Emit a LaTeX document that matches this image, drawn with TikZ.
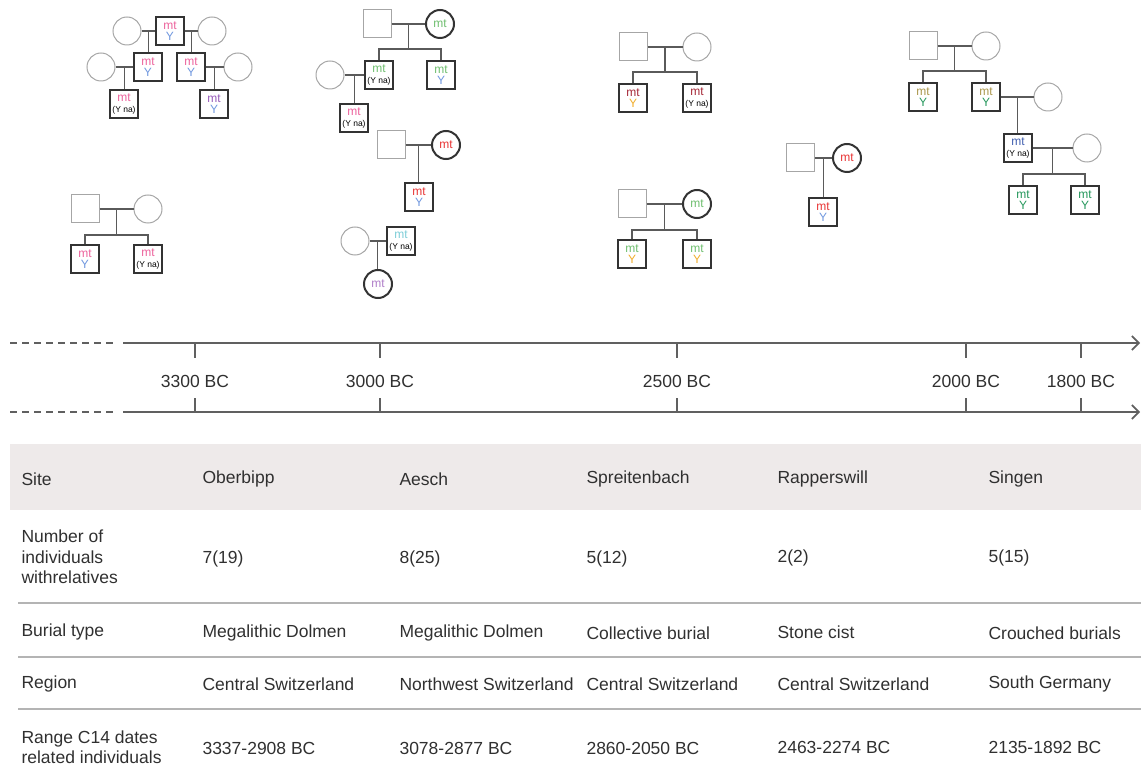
\documentclass[tikz,border=0pt]{standalone}
\usepackage{fontspec}
\setmainfont{Liberation Sans}
\usepackage{xcolor}
\usepackage{tikz}
\usetikzlibrary{arrows.meta}

\definecolor{txt}{HTML}{303030}
\definecolor{unsamp}{HTML}{A6A6A6}
\definecolor{samp}{HTML}{333333}
\definecolor{lnk}{HTML}{5A5A5A}
\definecolor{axc}{HTML}{606060}
\definecolor{hdr}{HTML}{EEEAEA}
\definecolor{sepc}{HTML}{B4B4B4}
\definecolor{pk}{RGB}{236,98,156}
\definecolor{ybl}{RGB}{110,150,222}
\definecolor{pur}{RGB}{150,90,185}
\definecolor{grn}{RGB}{110,190,110}
\definecolor{rd}{RGB}{232,52,52}
\definecolor{cyn}{RGB}{125,205,215}
\definecolor{lav}{RGB}{175,125,200}
\definecolor{drd}{RGB}{165,40,55}
\definecolor{org}{RGB}{240,172,40}
\definecolor{olv}{RGB}{170,150,75}
\definecolor{sgr}{RGB}{35,150,90}
\definecolor{sbl}{RGB}{65,95,175}

\newcommand{\yna}{{\fontsize{8.5}{9}\selectfont\color{black}(Y na)}}

\begin{document}
\begin{tikzpicture}[x=1pt,y=-1pt,
    every node/.style={font=\fontsize{17.5}{20.5}\selectfont, text=txt},
    unm/.style={rectangle, draw=unsamp, line width=1pt, minimum size=28pt, inner sep=0pt},
    unf/.style={circle, draw=unsamp, line width=1pt, minimum size=28pt, inner sep=0pt},
    sm/.style={rectangle, draw=samp, line width=2pt, minimum size=28pt, inner sep=0pt, align=center, font=\fontsize{12}{11}\selectfont},
    sf/.style={circle, draw=samp, line width=2pt, minimum size=28pt, inner sep=0pt, font=\fontsize{12}{11}\selectfont},
    link/.style={draw=lnk, line width=1.3pt},
    tk/.style={draw=axc, line width=1.6pt},
    cell/.style={anchor=west, align=left}]
    \useasboundingbox (0,0) rectangle (1141,767);

    % Oberbipp
    \node[unf] (ob1f) at (127,31) {};
    \node[sm] (ob1m) at (170,31) {\textcolor{pk}{mt}\\\textcolor{ybl}{Y}};
    \node[unf] (ob2f) at (212,31) {};
    \node[unf] (ob3f) at (101,67) {};
    \node[sm] (ob3m) at (148,67) {\textcolor{pk}{mt}\\\textcolor{ybl}{Y}};
    \node[sm] (ob4m) at (191,67) {\textcolor{pk}{mt}\\\textcolor{ybl}{Y}};
    \node[unf] (ob4f) at (238,67) {};
    \node[sm] (ob5m) at (124,104) {\textcolor{pk}{mt}\\\yna};
    \node[sm] (ob6m) at (214,104) {\textcolor{pur}{mt}\\\textcolor{ybl}{Y}};
    \draw[link] (ob1f) -- coordinate (ob1u) (ob1m);
    \draw[link] (ob1m) -- coordinate (ob2u) (ob2f);
    \draw[link] (ob3f) -- coordinate (ob3u) (ob3m);
    \draw[link] (ob4m) -- coordinate (ob4u) (ob4f);
    \draw[link] (ob1u) -- (ob1u |- ob3m.north);
    \draw[link] (ob2u) -- (ob2u |- ob4m.north);
    \draw[link] (ob3u) -- (ob3u |- ob5m.north);
    \draw[link] (ob4u) -- (ob4u |- ob6m.north);

    \node[unm] (ob7m) at (85,209) {};
    \node[unf] (ob7f) at (148,209) {};
    \node[sm] (ob8m) at (85,259) {\textcolor{pk}{mt}\\\textcolor{ybl}{Y}};
    \node[sm] (ob9m) at (148,259) {\textcolor{pk}{mt}\\\yna};
    \draw[link] (ob7m) -- coordinate (ob7u) (ob7f);
    \coordinate (ob7s) at (ob7u |- 0,235);
    \draw[link] (ob7u) -- (ob7s);
    \draw[link] (ob8m.north) |- (ob7s) -| (ob9m.north);

    % Aesch
    \node[unm] (ae1m) at (377,24) {};
    \node[sf] (ae1f) at (440,24) {\textcolor{grn}{mt}};
    \node[sm] (ae2m) at (379,75) {\textcolor{grn}{mt}\\\yna};
    \node[sm] (ae3m) at (441,75) {\textcolor{grn}{mt}\\\textcolor{ybl}{Y}};
    \node[unf] (ae2f) at (330,75) {};
    \node[sm] (ae4m) at (354,118) {\textcolor{pk}{mt}\\\yna};
    \draw[link] (ae1m) -- coordinate (ae1u) (ae1f);
    \coordinate (ae1s) at (ae1u |- 0,49);
    \draw[link] (ae1u) -- (ae1s);
    \draw[link] (ae2m.north) |- (ae1s) -| (ae3m.north);
    \draw[link] (ae2f) -- coordinate (ae2u) (ae2m);
    \draw[link] (ae2u) -- (ae2u |- ae4m.north);

    \node[unm] (ae5m) at (391,145) {};
    \node[sf] (ae5f) at (446,145) {\textcolor{rd}{mt}};
    \node[sm] (ae6m) at (419,197) {\textcolor{rd}{mt}\\\textcolor{ybl}{Y}};
    \draw[link] (ae5m) -- coordinate (ae5u) (ae5f);
    \draw[link] (ae5u) -- (ae5u |- ae6m.north);

    \node[unf] (ae7f) at (355,241) {};
    \node[sm] (ae7m) at (401,241) {\textcolor{cyn}{mt}\\\yna};
    \node[sf] (ae8f) at (378,284) {\textcolor{lav}{mt}};
    \draw[link] (ae7f) -- coordinate (ae7u) (ae7m);
    \draw[link] (ae7u) -- (ae7u |- ae8f.north);

    % Spreitenbach
    \node[unm] (sp1m) at (633,47) {};
    \node[unf] (sp1f) at (697,47) {};
    \node[sm] (sp2m) at (633,98) {\textcolor{drd}{mt}\\\textcolor{org}{Y}};
    \node[sm] (sp3m) at (697,98) {\textcolor{drd}{mt}\\\yna};
    \draw[link] (sp1m) -- coordinate (sp1u) (sp1f);
    \coordinate (sp1s) at (sp1u |- 0,72);
    \draw[link] (sp1u) -- (sp1s);
    \draw[link] (sp2m.north) |- (sp1s) -| (sp3m.north);

    \node[unm] (sp4m) at (632,204) {};
    \node[sf] (sp4f) at (697,204) {\textcolor{grn}{mt}};
    \node[sm] (sp5m) at (632,254) {\textcolor{grn}{mt}\\\textcolor{org}{Y}};
    \node[sm] (sp6m) at (697,254) {\textcolor{grn}{mt}\\\textcolor{org}{Y}};
    \draw[link] (sp4m) -- coordinate (sp4u) (sp4f);
    \coordinate (sp4s) at (sp4u |- 0,230);
    \draw[link] (sp4u) -- (sp4s);
    \draw[link] (sp5m.north) |- (sp4s) -| (sp6m.north);

    % Rapperswill
    \node[unm] (ra1m) at (800,158) {};
    \node[sf] (ra1f) at (847,158) {\textcolor{rd}{mt}};
    \node[sm] (ra2m) at (823,212) {\textcolor{rd}{mt}\\\textcolor{ybl}{Y}};
    \draw[link] (ra1m) -- coordinate (ra1u) (ra1f);
    \draw[link] (ra1u) -- (ra1u |- ra2m.north);

    % Singen
    \node[unm] (si1m) at (923,46) {};
    \node[unf] (si1f) at (986,46) {};
    \node[sm] (si2m) at (923,97) {\textcolor{olv}{mt}\\\textcolor{sgr}{Y}};
    \node[sm] (si3m) at (986,97) {\textcolor{olv}{mt}\\\textcolor{sgr}{Y}};
    \node[unf] (si3f) at (1048,97) {};
    \node[sm] (si4m) at (1018,148) {\textcolor{sbl}{mt}\\\yna};
    \node[unf] (si4f) at (1087,148) {};
    \node[sm] (si5m) at (1023,200) {\textcolor{sgr}{mt}\\\textcolor{sgr}{Y}};
    \node[sm] (si6m) at (1085,200) {\textcolor{sgr}{mt}\\\textcolor{sgr}{Y}};
    \draw[link] (si1m) -- coordinate (si1u) (si1f);
    \coordinate (si1s) at (si1u |- 0,71);
    \draw[link] (si1u) -- (si1s);
    \draw[link] (si2m.north) |- (si1s) -| (si3m.north);
    \draw[link] (si3m) -- coordinate (si3u) (si3f);
    \draw[link] (si3u) -- (si3u |- si4m.north);
    \draw[link] (si4m) -- coordinate (si4u) (si4f);
    \coordinate (si4s) at (si4u |- 0,174);
    \draw[link] (si4u) -- (si4s);
    \draw[link] (si5m.north) |- (si4s) -| (si6m.north);

    % time axis
    \draw[axc, line width=1.6pt, dash pattern=on 7pt off 5pt] (10,343) -- (114,343);
    \draw[axc, line width=1.6pt, -{Straight Barb[length=7pt,width=14pt]}] (123,343) -- (1140,343);
    \draw[axc, line width=1.6pt, dash pattern=on 7pt off 5pt] (10,412) -- (114,412);
    \draw[axc, line width=1.6pt, -{Straight Barb[length=7pt,width=14pt]}] (123,412) -- (1140,412);

    \draw[tk] (195,343) -- (195,358);
    \draw[tk] (380,343) -- (380,358);
    \draw[tk] (677,343) -- (677,358);
    \draw[tk] (966,343) -- (966,358);
    \draw[tk] (1081,343) -- (1081,358);
    \draw[tk] (195,398) -- (195,412);
    \draw[tk] (380,398) -- (380,412);
    \draw[tk] (677,398) -- (677,412);
    \draw[tk] (966,398) -- (966,412);
    \draw[tk] (1081,398) -- (1081,412);

    \node (t3300) at (195,381) {3300 BC};
    \node (t3000) at (380,381) {3000 BC};
    \node (t2500) at (677,381) {2500 BC};
    \node (t2000) at (966,381) {2000 BC};
    \node (t1800) at (1081,381) {1800 BC};

    % table
    \fill[hdr] (10,444) rectangle (1141,510);
    \draw[sepc, line width=1.8pt] (18,603) -- (1141,603);
    \draw[sepc, line width=1.8pt] (18,657) -- (1141,657);
    \draw[sepc, line width=1.8pt] (18,709) -- (1141,709);

    \node[cell] (hsite) at (18,479) {Site};
    \node[cell] (hob) at (199,479) {Oberbipp};
    \node[cell] (hae) at (396,479) {Aesch};
    \node[cell] (hsp) at (583,479) {Spreitenbach};
    \node[cell] (hra) at (774,479) {Rapperswill};
    \node[cell] (hsi) at (985,479) {Singen};

    \node[cell] (nlab) at (18,557) {Number of\\individuals\\withrelatives};
    \node[cell] (nob) at (199,559) {7(19)};
    \node[cell] (nae) at (396,559) {8(25)};
    \node[cell] (nsp) at (583,559) {5(12)};
    \node[cell] (nra) at (774,558) {2(2)};
    \node[cell] (nsi) at (985,558) {5(15)};

    \node[cell] (blab) at (18,632) {Burial type};
    \node[cell] (bob) at (199,633) {Megalithic Dolmen};
    \node[cell] (bae) at (396,633) {Megalithic Dolmen};
    \node[cell] (bsp) at (583,633) {Collective burial};
    \node[cell] (bra) at (774,632) {Stone cist};
    \node[cell] (bsi) at (985,633) {Crouched burials};

    \node[cell] (rlab) at (18,684) {Region};
    \node[cell] (rob) at (199,684) {Central Switzerland};
    \node[cell] (rae) at (396,684) {Northwest Switzerland};
    \node[cell] (rsp) at (583,684) {Central Switzerland};
    \node[cell] (rra) at (774,684) {Central Switzerland};
    \node[cell] (rsi) at (985,684) {South Germany};

    \node[cell] (clab) at (18,747) {Range C14 dates\\related individuals};
    \node[cell] (cob) at (199,748) {3337-2908 BC};
    \node[cell] (cae) at (396,748) {3078-2877 BC};
    \node[cell] (csp) at (583,748) {2860-2050 BC};
    \node[cell] (cra) at (774,747) {2463-2274 BC};
    \node[cell] (csi) at (985,747) {2135-1892 BC};
\end{tikzpicture}
\end{document}
